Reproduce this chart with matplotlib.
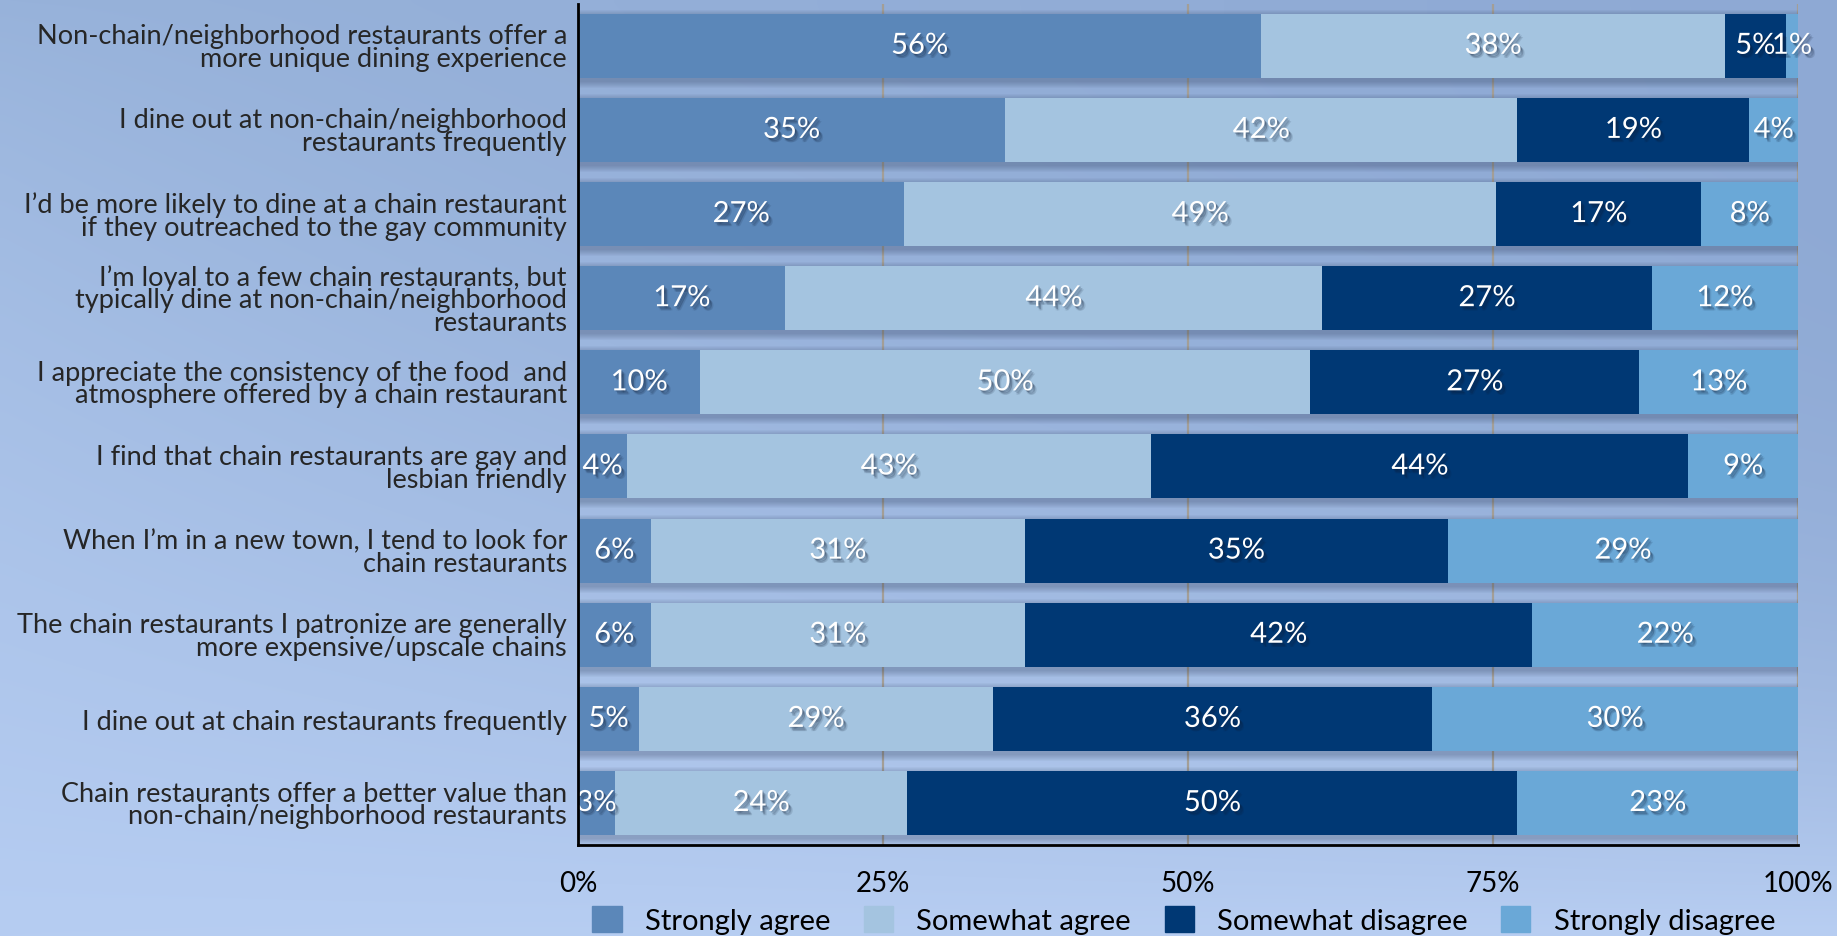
import numpy as np
import matplotlib.pyplot as plt
import matplotlib.patheffects as pe
from matplotlib.patches import Rectangle

plt.rcParams["font.family"] = ["Lato", "DejaVu Sans"]

statements = [
    "Non-chain/neighborhood restaurants offer a\nmore unique dining experience",
    "I dine out at non-chain/neighborhood\nrestaurants frequently",
    "I’d be more likely to dine at a chain restaurant\nif they outreached to the gay community",
    "I’m loyal to a few chain restaurants, but\ntypically dine at non-chain/neighborhood\nrestaurants",
    "I appreciate the consistency of the food  and\natmosphere offered by a chain restaurant",
    "I find that chain restaurants are gay and\nlesbian friendly",
    "When I’m in a new town, I tend to look for\nchain restaurants",
    "The chain restaurants I patronize are generally\nmore expensive/upscale chains",
    "I dine out at chain restaurants frequently",
    "Chain restaurants offer a better value than\nnon-chain/neighborhood restaurants",
]

responses = ["Strongly agree", "Somewhat agree", "Somewhat disagree", "Strongly disagree"]
strongly_agree = [56, 35, 27, 17, 10, 4, 6, 6, 5, 3]
somewhat_agree = [38, 42, 49, 44, 50, 43, 31, 31, 29, 24]
somewhat_disagree = [5, 19, 17, 27, 27, 44, 35, 42, 36, 50]
strongly_disagree = [1, 4, 8, 12, 13, 9, 29, 22, 30, 23]

colors = ["#5b87b9", "#a4c4e0", "#003874", "#6aa8d7"]

values = np.array([strongly_agree, somewhat_agree, somewhat_disagree, strongly_disagree], dtype=float)
# 100% stacked: each row scaled by its own total
shares = values / values.sum(axis=0) * 100

fig = plt.figure(figsize=(18.37, 9.37), dpi=100)

# background gradient, darker towards the top right
bg = fig.add_axes([0, 0, 1, 1], zorder=-10)
H, W = 200, 300
u = np.linspace(0, 1, W)[None, :]
v = np.linspace(0, 1, H)[:, None]
top = np.array([151, 178, 218])[None, None, :] * (1 - u[..., None]) + np.array([142, 169, 212])[None, None, :] * u[..., None]
bot = np.array([182, 205, 242])[None, None, :] * (1 - u[..., None]) + np.array([184, 206, 242])[None, None, :] * u[..., None]
t = (v ** (0.8 + 2 * u))[..., None]
grad = (top * (1 - t) + bot * t) / 255
bg.imshow(grad, aspect="auto", extent=[0, 1, 0, 1], interpolation="bicubic")
bg.axis("off")

ax = fig.add_axes([0.3147, 0.097, 0.9788 - 0.3147, 0.995 - 0.097])
ax.set_facecolor("none")

y = np.arange(len(statements))
h = 0.76
px = 100 / 1219.0
py = 10 / 841.0

# soft drop shadow behind each bar row
totals = shares.sum(axis=0)
for k in range(1, 8):
    ax.barh(y + 3 * py, totals + 2 * k * px, left=-k * px + 2 * px, height=h + 2 * k * py,
            color="#1c2a48", alpha=0.04, linewidth=0, zorder=1)

text_shadow = [pe.SimplePatchShadow(offset=(dx, -dy), shadow_rgbFace="#0d1a33", alpha=a)
               for dx, dy, a in [(1, 1, 0.25), (2, 2, 0.2), (3, 3, 0.12), (2, 3, 0.1)]] + [pe.Normal()]

left = np.zeros(len(statements))
for j, name in enumerate(responses):
    ax.barh(y, shares[j], left=left, height=h, color=colors[j], linewidth=0, zorder=2, label=name)
    for i in range(len(statements)):
        ax.text(left[i] + shares[j][i] / 2, y[i], f"{int(values[j][i])}%", ha="center", va="center",
                color="white", fontsize=21, zorder=5, path_effects=text_shadow)
    left += shares[j]

ax.set_xlim(0, 100)
ax.set_ylim(9.5, -0.5)
ax.set_xticks([0, 25, 50, 75, 100])
ax.set_xticklabels(["0%", "25%", "50%", "75%", "100%"], fontsize=20, color="black")
ax.set_yticks(y)
ax.set_yticklabels(statements, fontsize=19.5, color="#262626", linespacing=0.88)
ax.tick_params(axis="both", length=0)
ax.tick_params(axis="x", pad=18)
ax.tick_params(axis="y", pad=8)
ax.set_axisbelow(True)
ax.xaxis.grid(True, color="#a39e96", linewidth=1.6, zorder=0)
for s in ["top", "right"]:
    ax.spines[s].set_visible(False)
for s in ["left", "bottom"]:
    ax.spines[s].set_linewidth(2)
    ax.spines[s].set_color("black")
    ax.spines[s].set_zorder(6)

handles = [Rectangle((0, 0), 1, 1, color=c) for c in colors]
fig.legend(handles, responses, loc="center left", bbox_to_anchor=(0.3225, 0.017), ncol=4, frameon=False,
           fontsize=21, handlelength=1.0, handleheight=1.0, handletextpad=0.8, columnspacing=1.15,
           borderpad=0, borderaxespad=0)

fig.savefig("out.png", dpi=100)
